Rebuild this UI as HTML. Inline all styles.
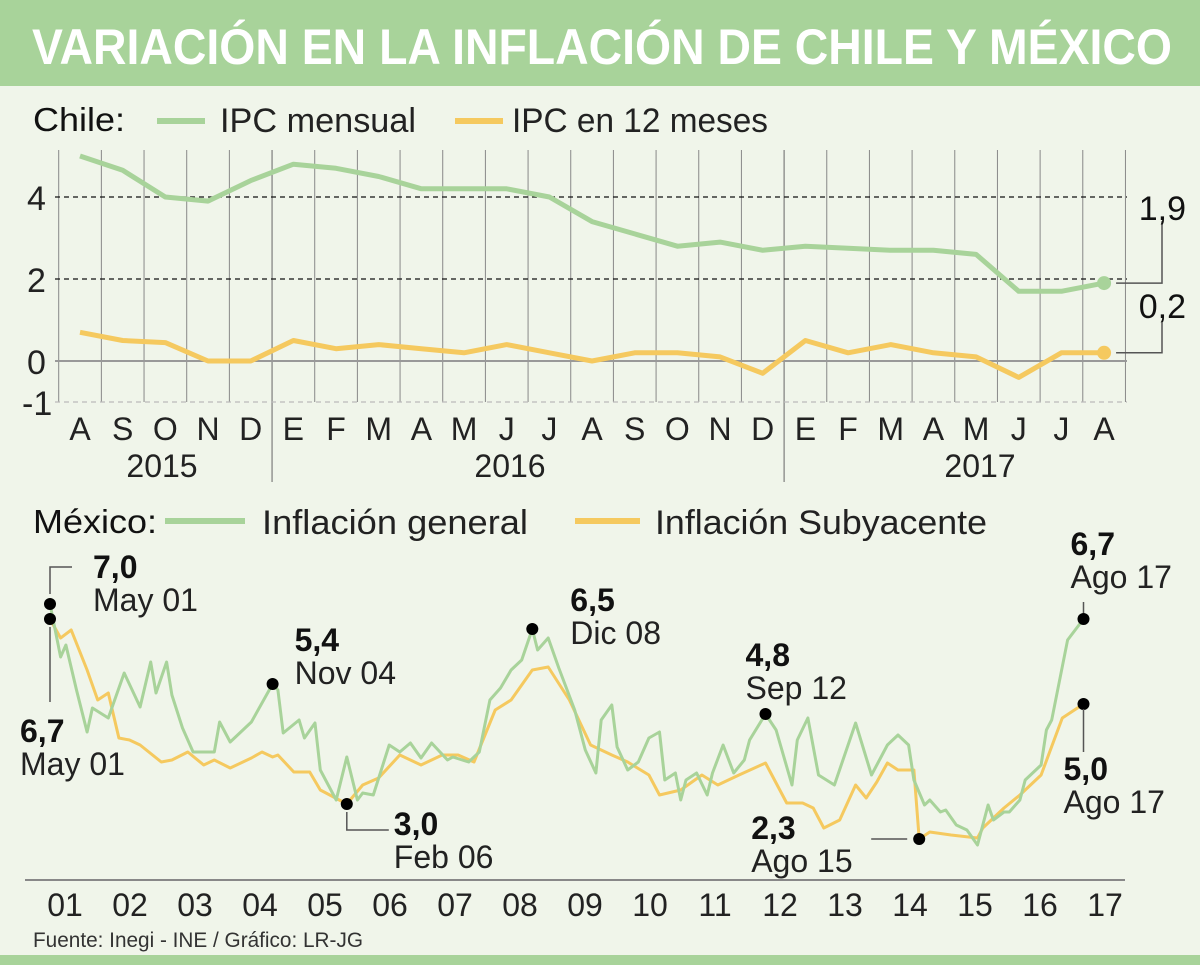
<!DOCTYPE html>
<html><head><meta charset="utf-8">
<style>
html,body{margin:0;padding:0;background:#f0f5ea;}
svg{display:block;font-family:"Liberation Sans Narrow","Liberation Sans",sans-serif;}
</style></head>
<body>
<svg id="chart" width="1200" height="965" viewBox="0 0 1200 965" xmlns="http://www.w3.org/2000/svg">
<rect x="0" y="0" width="1200" height="965" fill="#f0f5ea"/>
<rect x="0" y="0" width="1200" height="86" fill="#a8d39a"/>
<text x="32" y="64" fill="#fff" font-weight="bold" font-size="50" textLength="1140" lengthAdjust="spacingAndGlyphs">VARIACIÓN EN LA INFLACIÓN DE CHILE Y MÉXICO</text>
<rect x="0" y="955" width="1200" height="10" fill="#a8d39a"/>

<!-- Chile legend -->
<text x="33" y="131" font-size="33" fill="#111" textLength="92" lengthAdjust="spacingAndGlyphs">Chile:</text>
<line x1="157" y1="121" x2="205" y2="121" stroke="#a8d39a" stroke-width="6"/>
<text x="220" y="132" font-size="34" fill="#222" textLength="196" lengthAdjust="spacingAndGlyphs">IPC mensual</text>
<line x1="455" y1="121" x2="503" y2="121" stroke="#f5c95f" stroke-width="6"/>
<text x="512" y="132" font-size="34" fill="#222" textLength="256" lengthAdjust="spacingAndGlyphs">IPC en 12 meses</text>

<g id="chile"></g>

<!-- Mexico legend -->
<text x="33" y="533" font-size="33" fill="#111" textLength="124" lengthAdjust="spacingAndGlyphs">México:</text>
<line x1="165" y1="521" x2="245" y2="521" stroke="#a8d39a" stroke-width="6"/>
<text x="262" y="534" font-size="34" fill="#222" textLength="266" lengthAdjust="spacingAndGlyphs">Inflación general</text>
<line x1="575" y1="521" x2="640" y2="521" stroke="#f5c95f" stroke-width="6"/>
<text x="655" y="534" font-size="34" fill="#222" textLength="332" lengthAdjust="spacingAndGlyphs">Inflación Subyacente</text>

<g id="mexico"></g>

<text x="33" y="947" font-size="21" fill="#333" textLength="330" lengthAdjust="spacingAndGlyphs">Fuente: Inegi - INE / Gráfico: LR-JG</text>
</svg>
<script>
// ---------- Chile data ----------
const chileMonths = ["A","S","O","N","D","E","F","M","A","M","J","J","A","S","O","N","D","E","F","M","A","M","J","J","A"];
const chileMensual = [5.0,4.65,4.0,3.9,4.4,4.8,4.7,4.5,4.2,4.2,4.2,4.0,3.4,3.1,2.8,2.9,2.7,2.8,2.75,2.7,2.7,2.6,1.7,1.7,1.9];
const chile12 = [0.7,0.5,0.45,0.0,0.0,0.5,0.3,0.4,0.3,0.2,0.4,0.2,0.0,0.2,0.2,0.1,-0.3,0.5,0.2,0.4,0.2,0.1,-0.4,0.2,0.2];
const chileYTicks = [4,2,0,-1];
const chileYears = ["2015","2016","2017"];
const chileEndLabels = ["1,9","0,2"];

// ---------- Mexico data (month index since Jan 2001) ----------
const mxGenMonths = [4,6,7,9,11,12,15,18,21,23,24,26,27,29,31,35,36,38,42,46,47,48,51,52,54,55,58,60,62,63,65,68,70,72,74,76,79,80,83,85,87,89,91,93,95,96,98,100,103,105,107,108,110,111,113,115,117,119,120,122,123,124,126,128,129,131,133,135,136,139,141,144,145,147,149,152,156,159,161,162,164,166,167,169,170,172,173,175,177,179,181,182,184,185,187,188,191,192,193,196,199];
const mxGenValues = [7.0,5.94,6.18,5.28,4.44,4.92,4.72,5.62,4.94,5.84,5.22,5.84,5.18,4.52,4.04,4.04,4.64,4.24,4.64,5.4,5.28,4.42,4.68,4.32,4.62,3.68,3.08,3.94,3.08,3.22,3.18,4.18,4.04,4.22,3.92,4.22,3.88,3.94,3.84,4.04,5.08,5.32,5.68,5.88,6.5,6.08,6.32,5.72,4.88,4.08,3.62,4.68,4.98,4.14,3.68,3.84,4.32,4.44,3.48,3.62,3.08,3.48,3.62,3.18,3.62,4.18,3.62,3.88,4.28,4.8,4.48,3.38,4.28,4.72,3.58,3.38,4.62,3.58,3.98,4.18,4.38,4.18,3.48,2.98,3.08,2.84,2.88,2.58,2.48,2.18,2.98,2.68,2.84,2.84,3.08,3.48,3.78,4.48,4.68,6.28,6.7];
const mxCoreMonths = [4,6,8,11,13,15,17,19,21,25,27,30,33,35,38,42,44,46,47,50,53,55,60,63,66,70,74,78,81,84,88,91,95,98,102,106,110,113,117,119,123,127,130,134,139,143,146,148,150,153,156,158,160,162,164,167,168,170,174,179,180,184,187,191,195,199];
const mxCoreValues = [6.7,6.32,6.48,5.68,5.08,5.22,4.32,4.28,4.18,3.84,3.88,4.04,3.78,3.88,3.72,3.92,4.04,3.94,3.98,3.64,3.64,3.28,3.0,3.38,3.52,3.98,3.78,3.98,3.98,3.84,4.88,5.08,5.68,5.74,5.08,4.18,3.98,3.84,3.58,3.18,3.28,3.58,3.38,3.58,3.82,3.02,3.02,2.92,2.52,2.68,3.38,3.12,3.44,3.82,3.68,3.68,2.3,2.44,2.38,2.32,2.52,2.92,3.18,3.58,4.72,5.0];
const mxXTicks = ["01","02","03","04","05","06","07","08","09","10","11","12","13","14","15","16","17"];
// annotations: [series, month, value, bold text, sub text]
const mxAnnSeries = ["gen","core","gen","core","gen","gen","core","gen","core"];
const mxAnnMonth = [4,4,46,60,95,139,168,199,199];
const mxAnnValue = [7.0,6.7,5.4,3.0,6.5,4.8,2.3,6.7,5.0];
const mxAnnBold = ["7,0","6,7","5,4","3,0","6,5","4,8","2,3","6,7","5,0"];
const mxAnnSub = ["May 01","May 01","Nov 04","Feb 06","Dic 08","Sep 12","Ago 15","Ago 17","Ago 17"];

const NS = "http://www.w3.org/2000/svg";
function mk(parent, tag, attrs, text){
  const e = document.createElementNS(NS, tag);
  for (const k in attrs) e.setAttribute(k, attrs[k]);
  if (text !== undefined) e.textContent = text;
  parent.appendChild(e);
  return e;
}

// ---------- Chile chart ----------
const cg = document.getElementById("chile");
const cx = i => 80 + i * 42.67;
const cy = v => 361 - v * 41;
// vertical grid
for (let i = 0; i <= chileMonths.length; i++) {
  const x = cx(i) - 21.3;
  const isYear = (i === 5 || i === 17);
  const l = mk(cg, "line", {x1:x, y1:150, x2:x, y2: isYear ? 482 : 402, stroke: isYear ? "#666" : "#888", "stroke-width":1});
  
  
}
chileYTicks.forEach(v => {
  const y = cy(v);
  const l = mk(cg, "line", {x1:55, y1:y, x2:1127, y2:y, stroke: v===0 ? "#999" : (v===-1 ? "#bbb" : "#111"), "stroke-width": v===0 ? 2 : 1.3, "stroke-dasharray": v===0 ? "" : "5,4"});
  
  
  const t = mk(cg, "text", {x: v<0 ? 22 : 27, y: y+13, "font-size":34, fill:"#222"}, String(v));
  
  
});
chileMonths.forEach((m, i) => {
  const t = mk(cg, "text", {x: cx(i), y: 440, "font-size":32, fill:"#222", "text-anchor":"middle"}, m);
  
  
});
[[162,0],[510,1],[980,2]].forEach(([x,k]) => {
  const t = mk(cg, "text", {x:x, y:477, "font-size":32, fill:"#222", "text-anchor":"middle"}, chileYears[k]);
  
  
});
function cpath(vals){ return vals.map((v,i)=>(i?"L":"M")+cx(i).toFixed(1)+","+cy(v).toFixed(1)).join(""); }
const p1 = mk(cg, "path", {d: cpath(chileMensual), fill:"none", stroke:"#a8d39a", "stroke-width":5, "stroke-linejoin":"round"});


const p2 = mk(cg, "path", {d: cpath(chile12), fill:"none", stroke:"#f5c95f", "stroke-width":5, "stroke-linejoin":"round"});


const last = chileMonths.length - 1;
[[chileMensual,"#a8d39a",0,-62,220],[chile12,"#f5c95f",1,-30,318]].forEach(([arr,col,k,up,ty]) => {
  const x = cx(last), y = cy(arr[last]);
  const d = mk(cg, "circle", {cx:x, cy:y, r:7, fill:col});
  
  
  const b = mk(cg, "polyline", {points: `${x+12},${y} ${1162},${y} ${1162},${y+up}`, fill:"none", stroke:"#555", "stroke-width":1.5});
  
  
  const t = mk(cg, "text", {x:1186, y: ty, "font-size":34, fill:"#111", "text-anchor":"end"}, chileEndLabels[k]);
  
  
});

// ---------- Mexico chart ----------
const mg = document.getElementById("mexico");
const mx = m => 50 + (m - 4) * 5.3;
const my = v => 604 + (7 - v) * 50;
const ax = mk(mg, "line", {x1:25, y1:880, x2:1125, y2:880, stroke:"#888", "stroke-width":2});


mxXTicks.forEach((t, i) => {
  const e = mk(mg, "text", {x: 65 + i*65.0, y: 916, "font-size":32, fill:"#222", "text-anchor":"middle"}, t);
  
  
});
function mpath(ms, vs){ return ms.map((m,i)=>(i?"L":"M")+mx(m).toFixed(1)+","+my(vs[i]).toFixed(1)).join(""); }
const pc = mk(mg, "path", {d: mpath(mxCoreMonths, mxCoreValues), fill:"none", stroke:"#f5c95f", "stroke-width":3, "stroke-linejoin":"round"});


const pgn = mk(mg, "path", {d: mpath(mxGenMonths, mxGenValues), fill:"none", stroke:"#a8d39a", "stroke-width":3, "stroke-linejoin":"round"});


// annotation text layout (offsets relative to dot)
const annDx = [43,-30,22,47,38,-20,-168,-13,-20];
const annDy = [-26,123,-33,31,-18,-48,0,-64,76];
const annAnchor = ["start","start","start","start","start","start","start","start","start"];
const leaders = [
  d => `${d.x},${d.y-10} ${d.x},${d.y-37} ${d.x+22},${d.y-37}`,
  d => `${d.x},${d.y+8} ${d.x},${d.y+83}`,
  null,
  d => `${d.x},${d.y+8} ${d.x},${d.y+26} ${d.x+42},${d.y+26}`,
  null, null,
  d => `${d.x-48},${d.y} ${d.x-12},${d.y}`,
  d => `${d.x},${d.y-6} ${d.x},${d.y-17}`,
  d => `${d.x},${d.y+5} ${d.x},${d.y+48}`
];
mxAnnMonth.forEach((m, i) => {
  const d = {x: mx(m), y: my(mxAnnValue[i])};
  const c = mk(mg, "circle", {cx:d.x, cy:d.y, r:6, fill:"#000"});
  
  
  if (leaders[i]) {
    const l = mk(mg, "polyline", {points: leaders[i](d), fill:"none", stroke:"#555", "stroke-width":1.5});
    
    
  }
  const tx = d.x + annDx[i], ty = d.y + annDy[i];
  const b = mk(mg, "text", {x:tx, y:ty, "font-size":32, "font-weight":"bold", fill:"#111", "text-anchor":annAnchor[i]}, mxAnnBold[i]);
  
  
  const s = mk(mg, "text", {x:tx, y:ty+33, "font-size":32, fill:"#222", "text-anchor":annAnchor[i]}, mxAnnSub[i]);
  
  
});
</script>
</body></html>
